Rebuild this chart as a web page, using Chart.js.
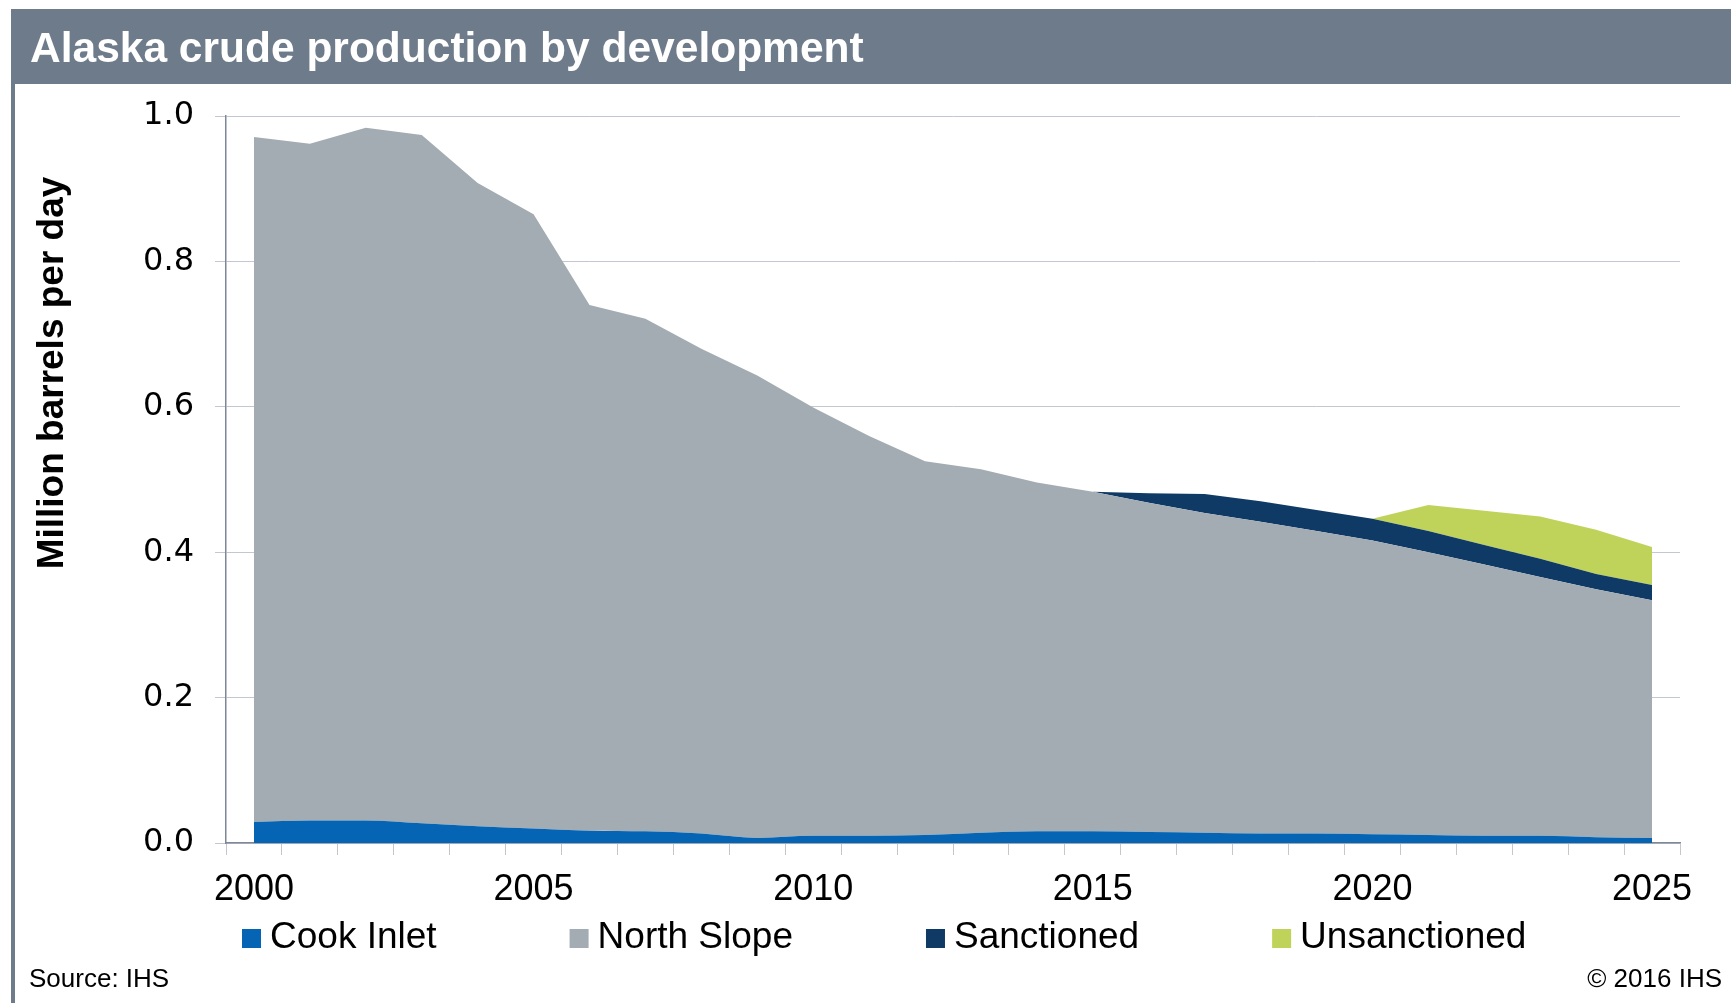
<!DOCTYPE html>
<html>
<head>
<meta charset="utf-8">
<title>Alaska crude production by development</title>
<script src="https://cdn.jsdelivr.net/npm/chart.js@4.4.1/dist/chart.umd.min.js"></script>
<style>
  html, body { margin: 0; padding: 0; background: #fff; }
  #wrap { position: relative; width: 1731px; height: 1003px; }
</style>
</head>
<body>
<div id="wrap"><canvas id="myChart"></canvas></div>
<script>
// values, million barrels per day
const years = ["2000","2001","2002","2003","2004","2005","2006","2007","2008","2009","2010","2011","2012",
               "2013","2014","2015","2016","2017","2018","2019","2020","2021","2022","2023","2024","2025"];
const cookInlet = [0.029, 0.031, 0.031, 0.027, 0.023, 0.020, 0.017, 0.016, 0.013, 0.007, 0.010, 0.010, 0.011,
                   0.014, 0.016, 0.016, 0.015, 0.014, 0.013, 0.013, 0.012, 0.011, 0.010, 0.010, 0.008, 0.007];
const northSlope = [0.942, 0.931, 0.953, 0.947, 0.885, 0.845, 0.723, 0.705, 0.667, 0.636, 0.589, 0.550, 0.514,
                    0.500, 0.480, 0.467, 0.453, 0.440, 0.429, 0.416, 0.404, 0.389, 0.373, 0.356, 0.341, 0.327];
const sanctioned = [0, 0, 0, 0, 0, 0, 0, 0, 0, 0, 0, 0, 0,
                    0, 0, 0, 0.013, 0.026, 0.028, 0.029, 0.030, 0.029, 0.027, 0.025, 0.021, 0.021];
const unsanctioned = [0, 0, 0, 0, 0, 0, 0, 0, 0, 0, 0, 0, 0,
                      0, 0, 0, 0, 0, 0, 0, 0, 0.036, 0.047, 0.058, 0.061, 0.052];
const seriesNames = ["Cook Inlet", "North Slope", "Sanctioned", "Unsanctioned"];
const seriesColors = ["#0565b4", "#a2acb2", "#103a66", "#bfd35a"];

const titleText = "Alaska crude production by development";
const yTitle = "Million barrels per day";
const sourceText = "Source: IHS";
const copyText = "\u00A9 2016 IHS";

const frameColor = "#6e7b8b";
const font = '"Liberation Sans", Arial, sans-serif';

// header band, frame, y title, legend and footer notes
const decor = {
  id: "decor",
  beforeDraw(chart) {
    const ctx = chart.ctx;
    ctx.save();
    ctx.fillStyle = frameColor;
    ctx.fillRect(11, 9, chart.width - 11, 75);
    ctx.fillRect(11, 84, 4, chart.height - 84);
    ctx.fillStyle = "#fff";
    ctx.font = "bold 42.5px " + font;
    ctx.textBaseline = "alphabetic";
    ctx.fillText(titleText, 30, 62);
    ctx.restore();
  },
  afterDraw(chart) {
    const ctx = chart.ctx;
    ctx.save();
    // axis title
    ctx.save();
    ctx.translate(53, 373);
    ctx.rotate(-Math.PI / 2);
    ctx.font = "bold 37px " + font;
    ctx.fillStyle = "#000";
    ctx.textAlign = "center";
    ctx.textBaseline = "middle";
    ctx.fillText(yTitle, 0, 0);
    ctx.restore();

    // legend
    ctx.font = "37px " + font;
    ctx.textBaseline = "alphabetic";
    let x = 242;
    chart.data.datasets.forEach(ds => {
      ctx.fillStyle = ds.backgroundColor;
      ctx.fillRect(x, 929, 19, 19);
      ctx.fillStyle = "#000";
      ctx.fillText(ds.label, x + 28, 948);
      x += 28 + ctx.measureText(ds.label).width + 133;
    });

    // notes
    ctx.font = "26px " + font;
    ctx.fillText(sourceText, 29, 987);
    ctx.textAlign = "right";
    ctx.fillText(copyText, 1722, 987);
    ctx.restore();
  }
};

const seriesValues = [cookInlet, northSlope, sanctioned, unsanctioned];

new Chart("myChart", {
  type: "line",
  data: {
    labels: years,
    datasets: seriesValues.map((vals, i) => ({
      label: seriesNames[i],
      data: vals,
      backgroundColor: seriesColors[i],
      borderColor: seriesColors[i],
      borderWidth: 0,
      pointRadius: 0,
      fill: i === 0 ? "origin" : "-1",
      cubicInterpolationMode: i === 0 ? "monotone" : "default",
      tension: 0
    }))
  },
  options: {
    responsive: true,
    maintainAspectRatio: false,
    animation: false,
    devicePixelRatio: 1,
    layout: { padding: { top: 116, left: 0, right: 51, bottom: 0 } },
    plugins: {
      legend: { display: false },
      title: { display: false },
      tooltip: { enabled: false }
    },
    scales: {
      x: {
        offset: true,
        grid: { offset: true, drawOnChartArea: false, color: "#c3c8d0", tickLength: 12 },
        border: { color: "#7d8796", width: 1.5 },
        ticks: {
          autoSkip: false, maxRotation: 0, minRotation: 0, padding: 13,
          color: "#000",
          font: { family: font, size: 36 },
          callback: (v, i) => (Number(years[i]) % 5 === 0 ? years[i] : "")
        },
        afterFit: s => { s.height = 160; }
      },
      y: {
        stacked: true,
        min: 0,
        max: 1,
        grid: { color: "#c3c8d0", tickLength: 11 },
        border: { color: "#7d8796", width: 1.5 },
        ticks: {
          stepSize: 0.2, padding: 21, color: "#000",
          font: { family: '"DejaVu Sans", sans-serif', size: 32 },
          callback: v => v.toFixed(1)
        },
        afterFit: s => { s.width = 226; }
      }
    }
  },
  plugins: [decor]
});
</script>
</body>
</html>
